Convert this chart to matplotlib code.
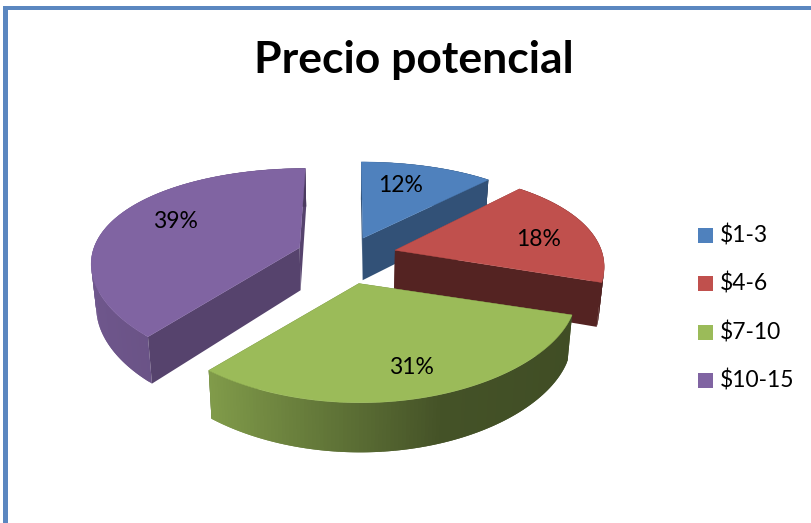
import numpy as np
import matplotlib
matplotlib.use("Agg")
import matplotlib.pyplot as plt
from matplotlib.colors import to_rgb
from matplotlib.patches import Rectangle

# Data
categories = ["$1-3", "$4-6", "$7-10", "$10-15"]
shares = [12, 18, 31, 39]

# Style
colors = ["#4F81BD", "#C0504D", "#9BBB59", "#8064A2"]
cut_shade = [0.63, 0.44, 0.44, 0.67]
explode = [0.2, 0.235, 0.27, 0.25]
flatten = [1.0, 1.0, 0.85, 1.0]
nudge_x = [0, 0, -0.025, 0]
label_pos = [(401, 185), (539, 239), (411, 367), (175, 221)]
font = "Lato"

# Pie projection (pixels)
cx, cy = 348, 256
rx, ry = 208, 100
persp_x = 0.135
persp_y = 0.22
depth = 43


def project(x, y, lower=False):
    sx = rx * x / (1 + persp_x * y)
    sy = -ry * y / (1 + persp_y * y)
    if lower:
        sx = sx * 0.98
        sy = sy + depth / (1 + 0.12 * y)
    return cx + sx, cy + sy


def side_shade(theta):
    return np.interp(np.sin(theta), [-1, -0.63, 0, 0.34, 1], [0.87, 0.83, 0.58, 0.44, 0.41])


def darker(color, k):
    return tuple(c * k for c in to_rgb(color))


def draw_cut(a, ox, oy, i):
    ex = np.array([ox, ox + np.sin(a)])
    ey = np.array([oy, oy + flatten[i] * np.cos(a)])
    xs1, ys1 = project(ex, ey)
    xs2, ys2 = project(ex, ey, lower=True)
    ax.fill(np.r_[xs1, xs2[::-1]], np.r_[ys1, ys2[::-1]],
            color=darker(colors[i], cut_shade[i]), lw=0)


fig = plt.figure(figsize=(8.11, 5.23), dpi=100)
ax = fig.add_axes([0, 0, 1, 1])
ax.set_xlim(0, 811)
ax.set_ylim(523, 0)
ax.axis("off")

# frame only shows on the left and top
ax.add_patch(Rectangle((3, 6), 5, 517, color="#5B87C0", lw=0))
ax.add_patch(Rectangle((3, 6), 808, 3.5, color="#5B87C0", lw=0))

edges = np.radians(np.cumsum([0] + shares) * 3.6)
# purple goes first, it sits behind the others on screen
for i in [3, 0, 1, 2]:
    a0, a1 = edges[i], edges[i + 1]
    mid = (a0 + a1) / 2
    ox = explode[i] * np.sin(mid) + nudge_x[i]
    oy = explode[i] * np.cos(mid)
    t = np.linspace(a0, a1, 120)
    px = ox + np.sin(t)
    py = oy + flatten[i] * np.cos(t)

    # a cut face looks at the viewer only on these sides
    front0 = np.sin(a0) < 0
    front1 = np.sin(a1) > 1e-6
    if not front0:
        draw_cut(a0, ox, oy, i)
    if not front1:
        draw_cut(a1, ox, oy, i)

    # outer rim, quads overlap the next one so no seams show
    for j in range(len(t) - 1):
        s = slice(j, j + 3)
        xs1, ys1 = project(px[s], py[s])
        xs2, ys2 = project(px[s], py[s], lower=True)
        col = darker(colors[i], side_shade(t[j]))
        ax.fill(np.r_[xs1, xs2[::-1]], np.r_[ys1, ys2[::-1]], color=col, lw=0)

    if front0:
        draw_cut(a0, ox, oy, i)
    if front1:
        draw_cut(a1, ox, oy, i)

    # top face
    xs, ys = project(np.r_[ox, px], np.r_[oy, py])
    ax.fill(xs, ys, color=colors[i], lw=0.3)

    ax.text(label_pos[i][0], label_pos[i][1], f"{shares[i]}%", fontsize=16.5,
            family=font, ha="center", va="center", color="black")

# legend
for i, name in enumerate(categories):
    y = 235.5 + i * 48.3
    ax.add_patch(Rectangle((698, y - 7.5), 15, 15, color=colors[i], lw=0))
    ax.text(720, y, name.replace("$", r"\$"), fontsize=16.5, family=font,
            ha="left", va="center", color="black")

ax.text(413.5, 60, "Precio potencial", fontsize=32, family=font,
        fontweight="bold", ha="center", va="center", color="black")

fig.savefig("out.png", dpi=100)
